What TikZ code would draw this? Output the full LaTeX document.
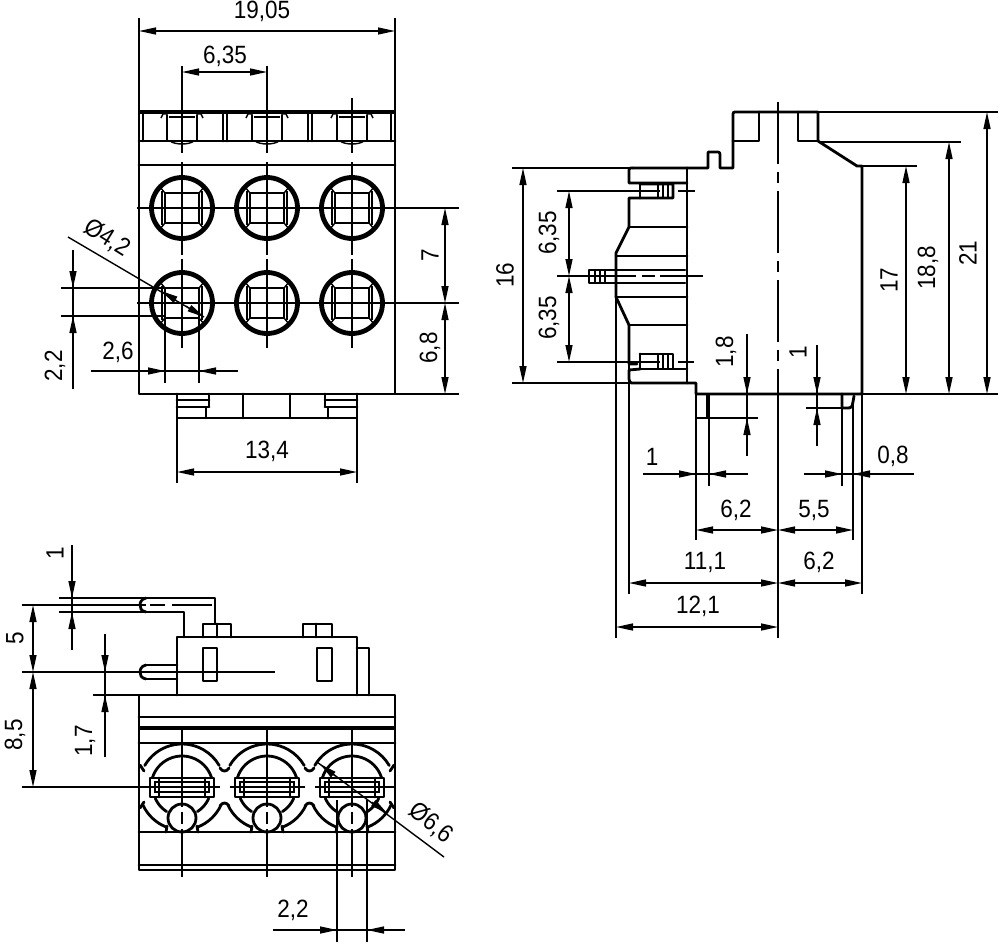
\documentclass[tikz,border=0pt]{standalone}
\usepackage{fontspec}
\setmainfont[FakeStretch=0.9]{Liberation Sans}
\usetikzlibrary{arrows.meta}
\tikzset{
  tipA/.tip={Triangle[length=17pt,width=7pt]},
  thk/.style={line width=2.8pt,line join=round,line cap=round},
  hvy/.style={line width=4.5pt},
  thn/.style={line width=1.4pt},
  dimB/.style={line width=1.4pt,{tipA}-{tipA}},
  dimE/.style={line width=1.4pt,-{tipA}},
  ctr/.style={line width=1.4pt,dash pattern=on 62pt off 8pt on 11pt off 8pt},
  lab/.style={inner sep=0pt,font=\fontsize{25}{25}\selectfont},
  labv/.style={lab,rotate=90},
}
\begin{document}
\begin{tikzpicture}[yscale=-1,x=1pt,y=1pt]
\useasboundingbox (0,0) rectangle (1000,945);
% ---------- top-left view
\draw[thk] (139,112) rectangle (395,394);
\draw[thk] (139,141) -- (395,141);
\draw[thk] (139,165) -- (395,165);
\draw[hvy] (139,112) -- (395,112);
\draw[thk] (143,113) -- (143,141) (223,113) -- (223,141) (227,113) -- (227,141)
  (308,113) -- (308,141) (312,113) -- (312,141) (391,113) -- (391,141);
\foreach \c in {182,267,352}{
  \draw[thk] (\c-15,115) -- (\c-15,140) (\c+15,115) -- (\c+15,140);
  \draw[thn] (\c-13,117) -- (\c+13,117);
  \draw[thn] (\c-21,118) -- (\c-19,114) -- (\c-15,114) (\c+21,118) -- (\c+19,114) -- (\c+15,114);
  \draw[thn] (\c-12,141) .. controls (\c-7,145) and (\c+7,145) .. (\c+12,141);
  \draw[thn] (\c,142) -- (\c,153) (\c,162) -- (\c,255) (\c,259) -- (\c,348);
  \draw[thn] (\c,117) -- (\c,126) (\c,131) -- (\c,137);
  \foreach \r in {208,303}{
    \draw[line width=4.8pt] (\c,\r) circle[radius=30.5];
    \draw[thk] (\c-17,\r-15) rectangle (\c+17,\r+15);
    \draw[thn] (\c-17,\r-15) -- (\c-22,\r-21) (\c+17,\r-15) -- (\c+22,\r-21)
      (\c-17,\r+15) -- (\c-22,\r+21) (\c+17,\r+15) -- (\c+22,\r+21);
    \draw[thn] (\c-20,\r-17) -- (\c-20,\r+17) (\c+20,\r-17) -- (\c+20,\r+17);
  }
}
\draw[thn] (137,208) -- (459,208) (137,303) -- (459,303);
% feet
\draw[thk] (177,394) -- (177,418) -- (357,418) -- (357,394);
\draw[thk] (243,394) -- (243,418) (290,394) -- (290,418);
\draw[thk] (209,394) -- (209,407) -- (206,407) -- (206,418);
\draw[thk] (325,394) -- (325,407) -- (328,407) -- (328,418);
\draw[thk] (177,400) -- (209,400) (177,407) -- (209,407);
\draw[thk] (325,400) -- (357,400) (325,407) -- (357,407);
% dimensions of top-left view
\draw[thn] (139,18) -- (139,112) (395,18) -- (395,112);
\draw[dimB] (139,31) -- (395,31);
\node[lab] (t1905) at (262,11) {19,05};
\draw[thn] (182,66) -- (182,142) (267,66) -- (267,142) (352,98) -- (352,142);
\draw[dimB] (182,72) -- (267,72);
\node[lab] (t635a) at (225,56) {6,35};
\draw[thn] (395,394) -- (459,394);
\draw[dimB] (445,208) -- (445,303);
\draw[dimB] (445,303) -- (445,394);
\node[labv] (t7) at (430,255) {7};
\node[labv] (t68) at (430,348) {6,8};
\draw[thn] (177,418) -- (177,483) (357,418) -- (357,483);
\draw[dimB] (177,472) -- (357,472);
\node[lab] (t134) at (267,451) {13,4};
\draw[thn] (165,318) -- (165,383) (199,318) -- (199,383);
\draw[thn] (91,371) -- (238,371);
\draw[dimE] (130,371) -- (165,371);
\draw[dimE] (235,371) -- (199,371);
\node[lab] (t26) at (118,352) {2,6};
\draw[thn] (61,288) -- (165,288) (61,316) -- (165,316);
\draw[thn] (73,250) -- (73,389);
\draw[dimE] (73,260) -- (73,288);
\draw[dimE] (73,345) -- (73,316);
\node[labv] (t22a) at (55,366) {2,2};
\draw[thn] (68,237) -- (204,317);
\draw[line width=1pt,-{tipA}] (186,306) -- (204,317);
\draw[line width=1pt,-{tipA}] (176,300) -- (161,291);
\node[lab,rotate=-32] (t42) at (107,238) {Ø4,2};
% ---------- right view
\draw[thk] (633,168) -- (708,168) -- (708,153) .. controls (708,152) .. (710,152) -- (716,152)
  .. controls (720,152) .. (720,157) -- (720,168) -- (733,168) -- (733,116)
  .. controls (733,112) .. (737,112) -- (818,112) -- (818,141) -- (857,166) -- (862,166) -- (862,394)
  -- (696,394) -- (696,383) -- (634,383) .. controls (630,383) .. (629,379) -- (629,370) -- (640,369);
\draw[thk] (759,112) -- (759,141) -- (733,141);
\draw[thk] (798,112) -- (798,141) -- (818,141);
\draw[thk] (687,168) -- (687,383);
\draw[thk] (633,168) .. controls (629,168) .. (629,172) -- (629,183) -- (687,183);
\draw[thk] (640,184) -- (673,184) -- (673,198) -- (640,198) -- (637,198) -- (629,198) -- (629,227) -- (616,253) -- (616,297) -- (629,325) -- (629,364) -- (637,364);
\draw[thk] (640,354) -- (673,354) -- (673,369) -- (640,369) (687,369) -- (640,369);
\draw[thk] (640,184) -- (640,198) (640,354) -- (640,369);
\draw[thn] (658,184) -- (658,198) (663,184) -- (663,198) (668,184) -- (668,198);
\draw[thn] (658,354) -- (658,369) (663,354) -- (663,369) (668,354) -- (668,369);
\draw[thk] (629,227) -- (687,227) (616,256) -- (687,256) (616,297) -- (687,297) (629,325) -- (687,325);
\draw[thk] (685,270) -- (589,270) -- (589,283) -- (685,283);
\draw[thn] (595,270) -- (595,283) (600,270) -- (600,283) (605,270) -- (605,283);
\draw[thn] (557,276) -- (636,276) (642,276) -- (655,276) (660,276) -- (703,276);
\draw[thn] (557,191) -- (660,191) (678,191) -- (695,191);
\draw[thn] (557,362) -- (660,362) (678,362) -- (694,362);
\draw[thn] (512,168) -- (633,168) (512,383) -- (634,383);
\draw[dimB] (523,168) -- (523,383);
\node[labv] (t16) at (505,275) {16};
\draw[dimB] (569,191) -- (569,276);
\draw[dimB] (569,276) -- (569,362);
\node[labv] (t635b) at (549,233) {6,35};
\node[labv] (t635c) at (549,318) {6,35};
% centre line and right-hand dims
\draw[ctr] (778,102) -- (778,394);
\draw[thn] (778,394) -- (778,638);
\draw[thn] (862,166) -- (917,166) (818,142) -- (961,142) (818,112) -- (998,112) (862,394) -- (998,394);
\draw[dimB] (906,166) -- (906,394);
\draw[dimB] (949,142) -- (949,394);
\draw[dimB] (987,112) -- (987,394);
\node[labv] (t17) at (889,280) {17};
\node[labv] (t188) at (928,268) {18,8};
\node[labv] (t21) at (968,253) {21};
% foot details
\draw[thk] (696,394) -- (696,418) -- (709,418);
\draw[hvy] (708,394) -- (708,418);
\draw[thn] (709,418) -- (758,418);
\draw[thk] (842,394) -- (842,408) -- (847,408) .. controls (852,408) .. (854,396);
\draw[thn] (806,408) -- (847,408);
\draw[thn] (747,334) -- (747,456);
\draw[dimE] (747,360) -- (747,394);
\draw[dimE] (747,450) -- (747,418);
\node[labv] (t18) at (726,352) {1,8};
\draw[thn] (817,345) -- (817,446);
\draw[dimE] (817,360) -- (817,394);
\draw[dimE] (817,440) -- (817,408);
\node[labv] (t1a) at (798,352) {1};
% lower dims of the right view
\draw[thn] (616,297) -- (616,638) (629,364) -- (629,594);
\draw[thn] (696,394) -- (696,540) (709,418) -- (709,486) (842,408) -- (842,486) (853,400) -- (853,540) (862,394) -- (862,594);
\draw[thn] (643,474) -- (748,474);
\draw[dimE] (665,474) -- (696,474);
\draw[dimE] (740,474) -- (709,474);
\node[lab] (t1b) at (652,457) {1};
\draw[thn] (804,474) -- (914,474);
\draw[dimE] (815,474) -- (842,474);
\draw[dimE] (880,474) -- (853,474);
\node[lab] (t08) at (893,456) {0,8};
\draw[dimB] (696,530) -- (778,530);
\draw[dimB] (778,530) -- (853,530);
\node[lab] (t62a) at (736,510) {6,2};
\node[lab] (t55) at (814,510) {5,5};
\draw[dimB] (629,583) -- (778,583);
\draw[dimB] (778,583) -- (862,583);
\node[lab] (t111) at (705,562) {11,1};
\node[lab] (t62b) at (819,562) {6,2};
\draw[dimB] (616,627) -- (778,627);
\node[lab] (t121) at (698,606) {12,1};
% ---------- bottom-left view
\draw[thk] (146,598) -- (215,598) -- (215,623);
\draw[thk] (146,612) -- (184,612) -- (184,637);
\draw[thk] (146,598) .. controls (141,599) and (140,603) .. (140,605) .. controls (140,608) and (141,611) .. (146,612);
\draw[thk] (146,665) -- (177,665) (146,679) -- (177,679);
\draw[thk] (146,665) .. controls (141,666) and (140,670) .. (140,672) .. controls (140,675) and (141,678) .. (146,679);
\draw[thk] (177,695) -- (177,637) -- (357,637) -- (357,695);
\draw[thk] (357,648) -- (369,648) -- (369,695);
\draw[thk] (203,637) -- (203,624) -- (231,624) -- (231,637) (217,624) -- (217,637);
\draw[thk] (303,637) -- (303,624) -- (332,624) -- (332,637) (316,624) -- (316,637);
\draw[thk] (203,648) rectangle (217,681);
\draw[thk] (317,648) rectangle (332,681);
\draw[thk] (139,695) rectangle (395,870);
\draw[thk] (139,717) -- (395,717);
\draw[hvy] (139,728) -- (395,728);
\draw[thk] (139,743) -- (395,743) (139,832) -- (395,832) (139,865) -- (395,865);
\foreach \c in {182,267,352}{
  \draw[thk] (\c,787) ++(210:43) arc[start angle=210,end angle=330,radius=43];
  \draw[thk] (\c,787) ++(155:43) arc[start angle=155,end angle=112,radius=43];
  \draw[thk] (\c,787) ++(68:43) arc[start angle=68,end angle=25,radius=43];
  \draw[thk] (\c,787) ++(198:31) arc[start angle=198,end angle=342,radius=31];
  \draw[thk] (\c,787) ++(157:29) arc[start angle=157,end angle=122,radius=29];
  \draw[thk] (\c,787) ++(58:29) arc[start angle=58,end angle=23,radius=29];
  \draw[thk] (\c-32,778) rectangle (\c+32,797);
  \draw[thk] (\c-23,778) -- (\c-23,797) (\c+23,778) -- (\c+23,797);
  \draw[thn] (\c-27,782) rectangle (\c-23,792) (\c+23,782) rectangle (\c+27,792);
  \draw[thn] (\c-23,782) -- (\c+23,782) (\c-23,792) -- (\c+23,792);
  \draw[thk,fill=white] (\c,818) circle[radius=14];
  \draw[thn] (\c,730) -- (\c,807) (\c,812) -- (\c,824) (\c,829) -- (\c,877);
  \draw[thk] (\c-16,832) -- (\c-15,826) (\c+16,832) -- (\c+15,826);
}
\foreach \c in {182,267}{
  \draw[thk] (\c+38,768) .. controls (\c+40,772) and (\c+45,772) .. (\c+47,768);
  \draw[thk] (\c+38,806) .. controls (\c+40,802) and (\c+45,802) .. (\c+47,806);
}
\draw[thk] (140,765) -- (144,771) (140,808) -- (144,802) (390,771) -- (394,765) (390,802) -- (394,808);
\draw[thn] (22,605) -- (146,605) (150,605) -- (165,605) (172,605) -- (212,605);
\draw[thn] (22,672) -- (275,672);
\draw[thn] (22,787) -- (220,787) (230,787) -- (305,787) (315,787) -- (395,787);
\draw[thn] (59,598) -- (146,598) (59,612) -- (146,612);
\draw[thn] (93,695) -- (139,695);
\draw[thn] (72,545) -- (72,650);
\draw[dimE] (72,570) -- (72,598);
\draw[dimE] (72,640) -- (72,612);
\node[labv] (t1c) at (55,553) {1};
\draw[dimB] (33,605) -- (33,672);
\draw[dimB] (33,672) -- (33,787);
\node[labv] (t5) at (15,638) {5};
\node[labv] (t85) at (15,735) {8,5};
\draw[thn] (105,634) -- (105,757);
\draw[dimE] (105,645) -- (105,672);
\draw[dimE] (105,725) -- (105,695);
\node[labv] (t17b) at (85,741) {1,7};
\draw[thn] (317,762) -- (444,857);
\draw[line width=1pt,-{tipA}] (335,776) -- (320,764);
\draw[line width=1pt,-{tipA}] (372,802) -- (387,813);
\node[lab,rotate=-38] (t66) at (431,823) {Ø6,6};
\draw[thn] (337,800) -- (337,942) (367,800) -- (367,942);
\draw[thn] (273,930) -- (405,930);
\draw[dimE] (310,930) -- (337,930);
\draw[dimE] (395,930) -- (367,930);
\node[lab] (t22b) at (293,910) {2,2};
\end{tikzpicture}
\end{document}
